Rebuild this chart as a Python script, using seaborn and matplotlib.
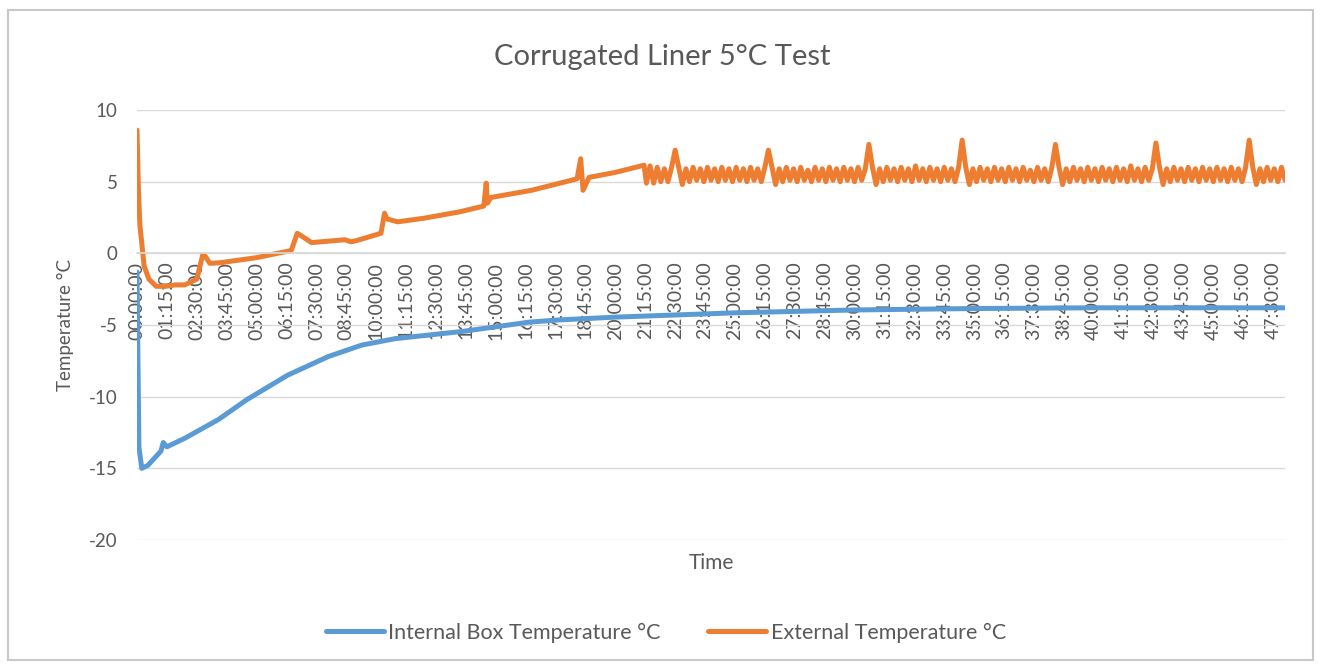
import matplotlib
matplotlib.use("Agg")
import matplotlib.pyplot as plt
import numpy as np
import pandas as pd
import seaborn as sns
from matplotlib.patches import Rectangle

sns.set_theme(style="white")
plt.rcParams["font.family"] = ["Lato", "DejaVu Sans"]
plt.rcParams["axes.unicode_minus"] = False

# internal box temperature (hours, degC)
hours_internal = [0, 0.08, 0.2, 0.45, 1.0, 1.1, 1.25, 2.0, 3.4, 4.6, 6.3, 8.0, 9.4,
                  10.8, 12.2, 13.6, 15.1, 16.4, 17.6, 20.0, 22.5, 25.0, 30.0, 35.0,
                  40.0, 48.0]
temp_internal = [-1.3, -13.5, -15.0, -14.8, -13.8, -13.2, -13.5, -12.9, -11.6, -10.2,
                 -8.5, -7.2, -6.4, -5.95, -5.7, -5.45, -5.1, -4.8, -4.65, -4.45, -4.3,
                 -4.15, -3.95, -3.85, -3.8, -3.8]

# external temperature before the chiller starts cycling
hours_external = [0, 0.06, 0.12, 0.3, 0.5, 0.8, 1.2, 1.6, 2.0, 2.5, 2.75, 2.85, 3.05,
                  3.5, 5.0, 6.45, 6.7, 6.8, 7.3, 8.0, 8.7, 8.95, 9.2, 10.2, 10.35,
                  10.45, 10.9, 12.0, 13.5, 14.5, 14.6, 14.65, 14.8, 16.5, 18.4, 18.55,
                  18.65, 18.9, 20.0, 21.2, 21.3]
temp_external = [8.6, 4.5, 2.0, -0.9, -1.8, -2.3, -2.3, -2.2, -2.2, -1.8, -0.1, -0.2,
                 -0.7, -0.65, -0.3, 0.2, 1.4, 1.3, 0.75, 0.85, 0.95, 0.8, 0.9, 1.4, 2.8,
                 2.4, 2.2, 2.45, 2.9, 3.3, 4.9, 3.5, 3.9, 4.4, 5.2, 6.6, 4.4, 5.3, 5.65,
                 6.15, 4.9]

# cycling part, one reading every 0.15 h from 21.45 h
cycle_start = 21.45
cycle_step = 0.15
temp_external_cycling = [
    6.1, 4.9, 6.0, 5.0, 5.9, 5.0, 6.0, 7.2, 6.0, 4.8,
    5.9, 5.0, 6.0, 5.1, 5.9, 5.0, 6.0, 5.1, 5.9, 5.0,
    6.0, 5.1, 5.9, 5.0, 6.0, 5.1, 5.9, 5.0, 6.0, 5.1,
    5.9, 5.0, 6.0, 7.2, 6.0, 4.8, 5.9, 5.0, 6.0, 5.1,
    5.9, 5.0, 6.0, 5.1, 5.8, 5.0, 6.0, 5.1, 5.9, 5.0,
    6.0, 5.1, 5.9, 5.0, 6.0, 5.1, 5.9, 5.0, 6.0, 5.1,
    5.9, 7.6, 6.0, 4.8, 5.9, 5.0, 6.0, 5.1, 5.9, 5.0,
    6.0, 5.1, 5.9, 5.0, 6.1, 5.1, 5.9, 5.0, 6.0, 5.1,
    5.9, 5.0, 6.0, 5.1, 5.9, 5.0, 6.0, 7.9, 6.0, 4.8,
    5.9, 5.0, 6.0, 5.1, 5.9, 5.0, 6.0, 5.1, 5.9, 5.0,
    6.0, 5.1, 5.9, 5.0, 6.0, 5.1, 5.8, 5.0, 6.0, 5.1,
    5.9, 5.0, 6.0, 7.6, 6.0, 4.8, 5.9, 5.0, 6.0, 5.1,
    5.9, 5.0, 6.0, 5.1, 5.9, 5.0, 6.0, 5.1, 5.9, 5.0,
    6.0, 5.1, 5.9, 5.0, 6.1, 5.1, 5.9, 5.0, 6.0, 5.1,
    5.9, 7.7, 6.0, 4.8, 5.9, 5.0, 6.0, 5.1, 5.9, 5.0,
    6.0, 5.1, 5.9, 5.0, 6.0, 5.1, 5.9, 5.0, 6.0, 5.1,
    5.9, 5.0, 6.0, 5.1, 5.9, 5.0, 6.0, 7.9, 6.0, 4.8,
    5.9, 5.0, 6.0, 5.1, 5.9, 5.0, 6.0, 5.1,
]

tick_labels = [
    "00:00:00", "01:15:00", "02:30:00", "03:45:00", "05:00:00", "06:15:00",
    "07:30:00", "08:45:00", "10:00:00", "11:15:00", "12:30:00", "13:45:00",
    "15:00:00", "16:15:00", "17:30:00", "18:45:00", "20:00:00", "21:15:00",
    "22:30:00", "23:45:00", "25:00:00", "26:15:00", "27:30:00", "28:45:00",
    "30:00:00", "31:15:00", "32:30:00", "33:45:00", "35:00:00", "36:15:00",
    "37:30:00", "38:45:00", "40:00:00", "41:15:00", "42:30:00", "43:45:00",
    "45:00:00", "46:15:00", "47:30:00",
]
tick_hours = np.arange(len(tick_labels)) * 1.25

grey = "#595959"
blue = "#5B9BD5"
orange = "#ED7D31"

internal = pd.DataFrame({"hours": hours_internal, "temp": temp_internal})
cyc_hours = cycle_start + cycle_step * np.arange(len(temp_external_cycling))
external = pd.DataFrame({
    "hours": list(hours_external) + list(cyc_hours),
    "temp": list(temp_external) + list(temp_external_cycling),
})

fig = plt.figure(figsize=(13.21, 6.66), dpi=100)
ax = fig.add_axes([0.1037, 0.1892, 0.8691, 0.6456])

sns.lineplot(data=internal, x="hours", y="temp", ax=ax, color=blue, lw=3.6,
             estimator=None, sort=False, label="Internal Box Temperature °C")
sns.lineplot(data=external, x="hours", y="temp", ax=ax, color=orange, lw=3.6,
             estimator=None, sort=False, label="External Temperature °C")

ax.set_xlim(0, 48)
ax.set_ylim(-20, 10)
for s in ["left", "right", "top"]:
    ax.spines[s].set_visible(False)
# category axis crosses at zero, as in the spreadsheet chart
ax.spines["bottom"].set_position(("data", 0))
ax.spines["bottom"].set_color("#d9d9d9")
ax.set_yticks([-20, -15, -10, -5, 0, 5, 10])
ax.set_xticks(tick_hours, tick_labels)
ax.yaxis.grid(True, color="#d9d9d9", lw=1)
ax.xaxis.grid(False)
ax.tick_params(axis="y", length=0, pad=14, labelsize=13.5, labelcolor=grey)
ax.tick_params(axis="x", length=0, pad=6, labelsize=14, labelcolor=grey,
               labelrotation=90)

ax.set_xlabel("Time", fontsize=15, color=grey)
ax.xaxis.set_label_coords(0.5, -0.03)
ax.set_ylabel("Temperature °C", fontsize=13.5, color=grey)
ax.yaxis.set_label_coords(-0.055, 0.5)

fig.text(0.501, 0.914, "Corrugated Liner 5°C Test", fontsize=21, color=grey,
         ha="center", va="center")

ax.get_legend().remove()
handles, labels = ax.get_legend_handles_labels()
leg = fig.legend(handles, labels, loc="center", bbox_to_anchor=(0.504, 0.05),
                 ncol=2, frameon=False, fontsize=15.5, handlelength=2.7,
                 handletextpad=0.2, columnspacing=2.2)
for t in leg.get_texts():
    t.set_color(grey)

fig.patches.append(Rectangle((8 / 1321, 6 / 666), 1305 / 1321, 650 / 666,
                             transform=fig.transFigure, fill=False,
                             edgecolor="#c8c8c8", lw=1.5))

fig.savefig("out.png", dpi=100)
